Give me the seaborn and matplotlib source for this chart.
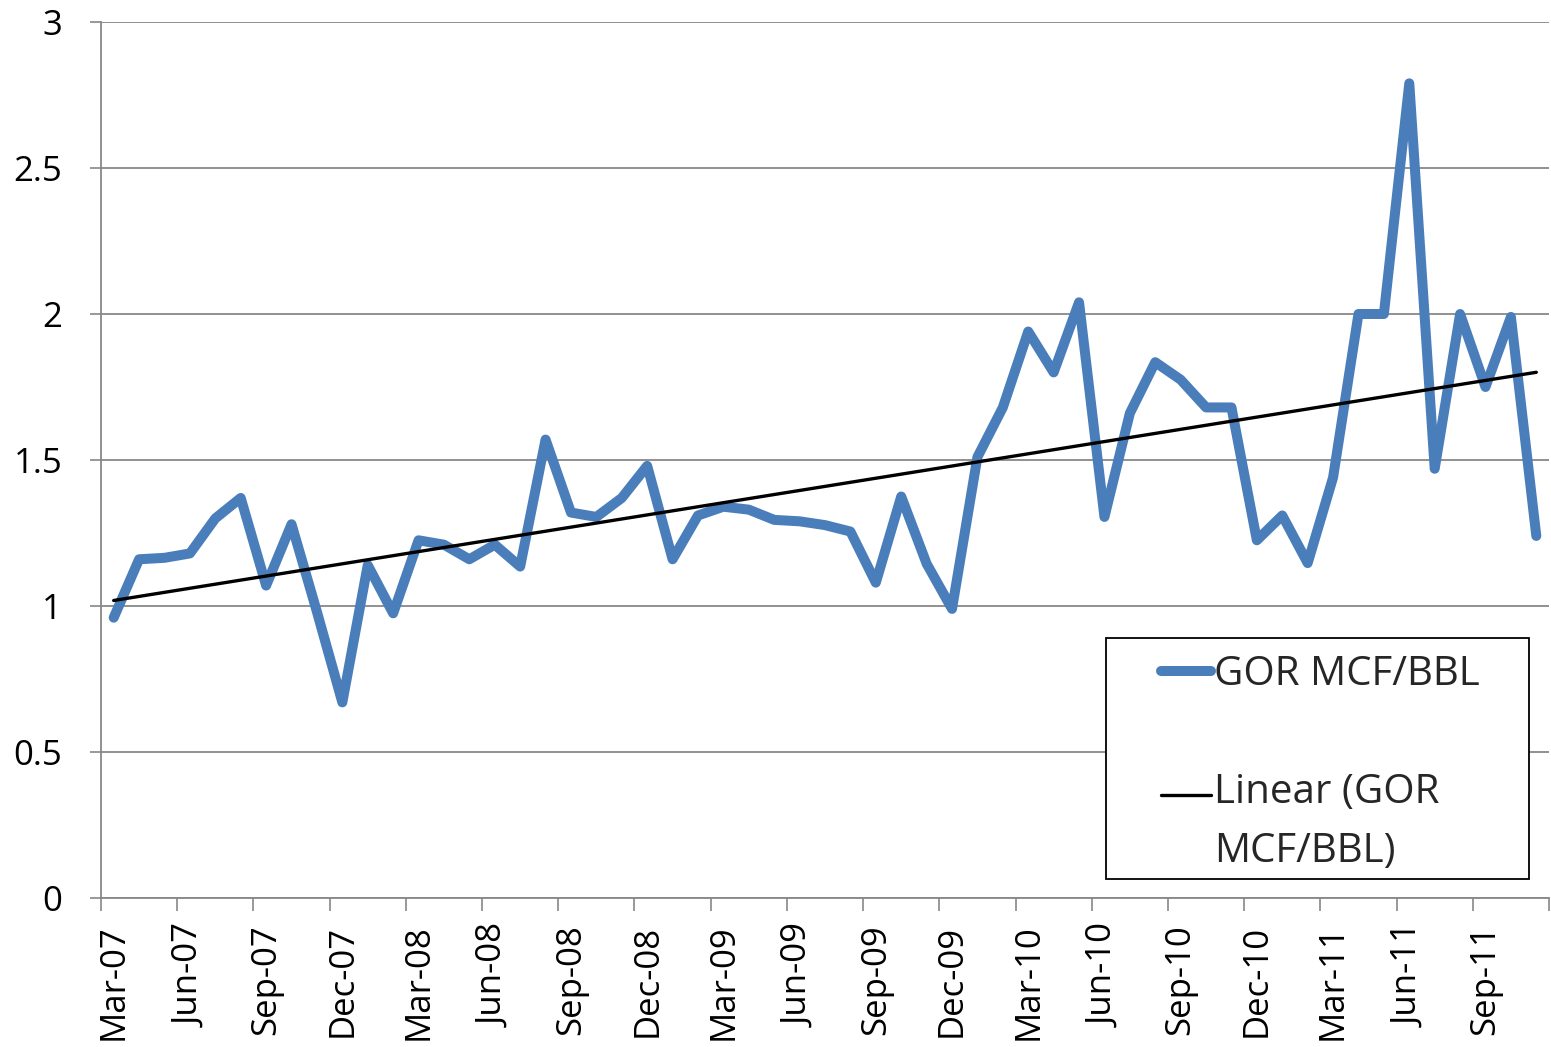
import numpy as np
import pandas as pd
import matplotlib
matplotlib.use("Agg")
import matplotlib.pyplot as plt
import seaborn as sns
from matplotlib.patches import Rectangle
from matplotlib.legend_handler import HandlerLine2D

# ---- data ----
months = pd.date_range("2007-03-01", "2011-11-01", freq="MS")
month_labels = [d.strftime("%b-%y") for d in months]
gor_values = [
    0.96, 1.16, 1.165, 1.18, 1.30, 1.37, 1.07, 1.28, 0.98, 0.67,
    1.14, 0.975, 1.225, 1.21, 1.16, 1.21, 1.135, 1.57, 1.32, 1.305,
    1.37, 1.48, 1.16, 1.31, 1.34, 1.33, 1.295, 1.29, 1.277, 1.255,
    1.08, 1.375, 1.145, 0.99, 1.51, 1.68, 1.94, 1.80, 2.04, 1.305,
    1.66, 1.835, 1.775, 1.68, 1.68, 1.225, 1.31, 1.147, 1.44, 2.0,
    2.0, 2.79, 1.47, 2.0, 1.75, 1.99, 1.24,
]
series_label = "GOR MCF/BBL"
trend_label = "Linear (GOR\nMCF/BBL)"
y_ticks = [0, 0.5, 1, 1.5, 2, 2.5, 3]
y_tick_labels = ["0", "0.5", "1", "1.5", "2", "2.5", "3"]

idx = np.arange(len(gor_values))
df = pd.DataFrame({"i": idx, "gor": gor_values})
slope, intercept = np.polyfit(df["i"], df["gor"], 1)
df["trend"] = slope * df["i"] + intercept

# ---- style ----
sns.set_style("white")
plt.rcParams["font.family"] = ["Open Sans", "DejaVu Sans"]

W, H = 1551, 1047
fig = plt.figure(figsize=(W / 100, H / 100), dpi=100)
ax = fig.add_axes([101 / W, (H - 898) / H, 1448 / W, 876 / H])

blue = "#4A7EBB"
grid_c = "#888888"

sns.lineplot(data=df, x="i", y="gor", ax=ax, color=blue, linewidth=7.2,
             label=series_label, solid_joinstyle="round", solid_capstyle="round")
sns.lineplot(data=df, x="i", y="trend", ax=ax, color="black", linewidth=2.4,
             label=trend_label)

ax.set_xlim(-0.5, len(gor_values) - 0.5)
ax.set_ylim(0, 3)
ax.set_xlabel("")
ax.set_ylabel("")

# y axis
ax.set_yticks(y_ticks)
ax.set_yticklabels(y_tick_labels)
ax.yaxis.grid(True, color=grid_c, linewidth=1.3)
ax.set_axisbelow(True)
ax.tick_params(axis="y", which="major", direction="out", length=8, width=1.2,
               color=grid_c, pad=20, labelsize=25, labelcolor="black", left=True)

# x axis: labels at category centres, tick marks at boundaries
lab_pos = idx[::3]
ax.set_xticks(lab_pos)
ax.set_xticklabels([month_labels[i] for i in lab_pos], rotation=90)
ax.set_xticks(np.append(np.arange(-0.5, len(gor_values) - 1, 3), len(gor_values) - 0.5), minor=True)
ax.tick_params(axis="x", which="major", length=0, pad=19, labelsize=25, labelcolor="black")
ax.tick_params(axis="x", which="minor", direction="out", length=9, width=1.2,
               color=grid_c, bottom=True)

for s in ["top", "right"]:
    ax.spines[s].set_visible(False)
for s in ["left", "bottom"]:
    ax.spines[s].set_color(grid_c)
    ax.spines[s].set_linewidth(1.3)

# legend box
bx0, by0, bw, bh = 0.694, 0.0217, 0.292, 0.275
ax.add_patch(Rectangle((bx0, by0), bw, bh, transform=ax.transAxes, facecolor="white",
                       edgecolor="black", linewidth=1.3, zorder=5))

LEG_FS = 29
LINESP = 1.6


class TopHandler(HandlerLine2D):
    """Place the handle next to the first line of a two-line label."""
    def __init__(self, shift, **kw):
        super().__init__(**kw)
        self.shift = shift

    def create_artists(self, legend, orig_handle, xdescent, ydescent, width, height, fontsize, trans):
        arts = super().create_artists(legend, orig_handle, xdescent, ydescent, width, height,
                                      fontsize, trans)
        for a in arts:
            a.set_ydata(np.asarray(a.get_ydata()) + self.shift)
        return arts


handles, labels = ax.get_legend_handles_labels()
shift_pt = 0.5 * 57 * 0.72  # half of one text line (px -> pt)
leg = ax.legend(handles, labels, loc="center",
                bbox_to_anchor=(bx0 + bw / 2 + 0.002, by0 + bh / 2 - 0.005),
                frameon=False, fontsize=LEG_FS, handlelength=1.25, handletextpad=0.08,
                labelspacing=1.93, borderpad=0.2,
                handler_map={handles[1]: TopHandler(shift_pt)})
leg.set_zorder(6)
for t in leg.get_texts():
    t.set_linespacing(LINESP)

fig.savefig("out.png", dpi=100, facecolor="white")
